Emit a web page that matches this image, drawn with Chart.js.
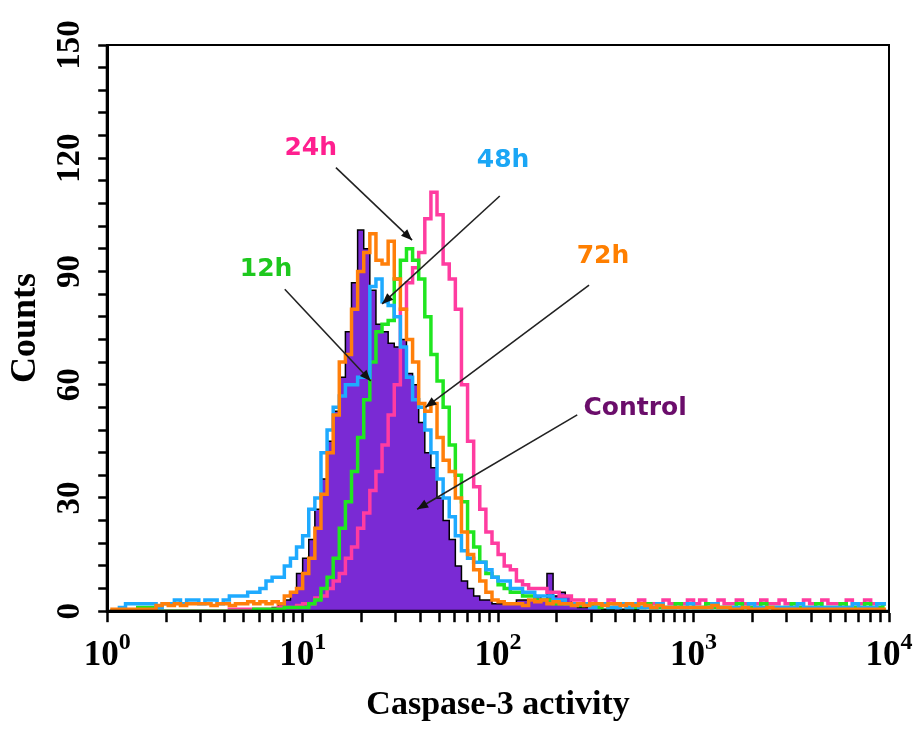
<!DOCTYPE html>
<html lang="en">
<head>
<meta charset="UTF-8">
<title>Caspase-3 activity histogram</title>
<script src="https://cdn.jsdelivr.net/npm/chart.js"></script>
<style>
  html, body { margin: 0; padding: 0; background: #fff; }
</style>
</head>
<body>
<canvas id="hist" width="914" height="731"></canvas>
<script>
  // 32 channels per decade, 4 decades (10^0 .. 10^4)
  const binsPerDecade = 32;
  const decades = 4;

  // counts per channel (rows of 16 = half a decade)
  const control = [
    0,0,0,0,0,0,0,0,0,0,0,0,0,0,0,0,
    0,0,0,0,0,0,0,0,0,0.5,0.5,1,2,3,5,10,
    14,19,27,35,45,53,62,74,87,101,96,85,76,74,71,70,
    72,63,60,50,42,38,30,24,19,12,8,6,4,3,3,2,
    2,2,2,3,3,3,4,3,10,4,5,4,2,1,1,1,
    1,0.5,0.5,1,0.5,0.5,0.5,0,0,0,0,0,0,0,0,0,
    0,0,0,0,0,0,0,0,0,0,0,0,0,0,0,0,
    0,0,0,0,0,0,0,0,0,0,0,0,0,0,0,0
  ];
  const h12 = [
    0,0,0,0,0,1,1,1,0,0,0,0,0,0,0,0,
    0,0,0,0,0,0,0,0,0.5,0.5,0.5,0.5,0.5,1,1,1,
    1,2,3,6,9,14,22,29,37,46,56,66,74,76,77,88,
    93,96,93,88,78,68,61,54,44,36,29,21,17,13,10,9,
    7,6,5,5,4,4,3,3,3,2,2,2,2,1.5,2,1.5,
    1,2,1,1,2,1,1,1,2,1,1,1,1,2,1,1,
    1,1,2,1,1,1,1,2,1,1,1,2,1,1,1,1,
    2,1,1,1,2,1,1,1,2,1,1,1,2,1,1,2
  ];
  const h24 = [
    0,0,0,0,0,0,0,0,0,0,0,0,0,0,0,0,
    0,0,0,0,0.5,0.5,0.5,0.5,0.5,0.5,0.5,0.5,1,1,1,1.5,
    2,2,3.5,4,6,8,10,14,17,22,26,32,37,44,52,60,
    80,87,91,95,104,111,105,92,88,80,60,45,33,27,21,18,
    15,12,11,8,7,6,6,6,5,5,4,4,3,3,2,3,
    2,2,3,2,2,1,2,3,2,2,2,3,2,2,2,3,
    2,3,2,2,3,2,2,3,2,2,2,3,2,2,3,2,
    2,2,3,2,2,3,2,2,2,3,2,2,3,2,2,2
  ];
  const h48 = [
    0,0,1,2,2,2,2,2,1,2,2,3,2,3,3,2,
    3,3,2,3,4,4,4,5,5,6,8,9,9,12,14,17,
    20,27,30,42,48,54,57,60,60,62,62,86,88,82,81,78,
    70,62,56,54,48,42,35,30,25,20,16,14,13,13,11,9,
    8,8,6,6,5,5,4,4,4,3,3,2,2,2,2,1,
    2,2,1,1,2,1,2,1,1,1,2,1,1,1,1,2,
    1,1,1,2,1,1,1,1,1,2,1,1,1,1,1,1,
    1,2,1,1,1,1,1,1,1,1,2,1,1,1,2,2
  ];
  const h72 = [
    0.5,0.5,0.5,0.5,0.5,0.5,0.5,0.5,1.5,2,1.5,2,1.5,2,2,2,
    2,1.5,2,2,1.5,2,2,2.5,2,2.5,2,2.5,2,4,5,6,
    10,14,22,31,42,52,66,68,80,90,95,100,93,92,98,88,
    80,72,66,55,53,55,46,40,37,30,21,15,11,8,5,3,
    2.5,2,2,2,1.5,3,2.5,3,2,2.5,2,2,1.5,2,1.5,2,
    2,1.5,2,2,1.5,2,1.5,2,1.5,1,1.5,1,1,1,1,1,
    1,1,1,1.5,1,1,0.5,0.5,1,0.5,0.5,0.5,1,0.5,0.5,0.5,
    0.5,0.5,0.5,0.5,0.5,0.5,0.5,0.5,0.5,0.5,0.5,0.5,0.5,0.5,0.5,0.5
  ];

  const yLabels = [0, 30, 60, 90, 120, 150];
  const xExponents = [0, 1, 2, 3, 4];

  // annotation labels and arrows, in data coordinates (channel value, count)
  const noteText   = ['24h', '48h', '12h', '72h', 'Control'];
  const noteColor  = ['#ff1f8f', '#1aa6f5', '#1ec81e', '#ff7f00', '#6b0d6b'];
  const noteAt     = [[11.0, 122.7], [106, 119.5], [6.5, 90.4], [344, 94.1], [502, 53.8]];
  const arrowFrom  = [[14.8, 117.5], [102, 110], [8.1, 85.3], [292, 86.4], [254, 52]];
  const arrowTo    = [[36.3, 98.3], [25.5, 81.4], [22.3, 61], [42.5, 54], [38.5, 27]];

  const binCenters = [];
  for (let i = 0; i < binsPerDecade * decades; i++) {
    binCenters.push(Math.pow(10, (i + 0.5) / binsPerDecade));
  }
  const toPoints = vals => binCenters.map((x, i) => ({ x: x, y: vals[i] }));

  // minor + major log ticks 1..9 x 10^n
  const logTicks = [];
  for (let e = 0; e < decades; e++) {
    for (let m = 1; m < 10; m++) logTicks.push(m * Math.pow(10, e));
  }
  logTicks.push(Math.pow(10, decades));

  function lineSet(label, vals, color) {
    return {
      label: label,
      data: toPoints(vals),
      borderColor: color,
      borderWidth: 3.5,
      fill: false,
      stepped: 'middle',
      pointRadius: 0
    };
  }

  // first dataset is drawn on top
  const datasets = [
    lineSet('72h', h72, '#ff7f0a'),
    lineSet('48h', h48, '#1eaaff'),
    lineSet('12h', h12, '#20e620'),
    lineSet('24h', h24, '#ff3ca0'),
    {
      label: 'Control',
      data: toPoints(control),
      borderColor: '#000',
      borderWidth: 1.5,
      backgroundColor: '#7a2ad4',
      fill: 'origin',
      stepped: 'middle',
      pointRadius: 0
    }
  ];

  function drawArrow(ctx, x0, y0, x1, y1) {
    ctx.beginPath();
    ctx.moveTo(x0, y0);
    ctx.lineTo(x1, y1);
    ctx.stroke();
    const ang = Math.atan2(y1 - y0, x1 - x0);
    const L = 11, W = 4.5;
    ctx.beginPath();
    ctx.moveTo(x1, y1);
    ctx.lineTo(x1 - L * Math.cos(ang) + W * Math.sin(ang), y1 - L * Math.sin(ang) - W * Math.cos(ang));
    ctx.lineTo(x1 - L * Math.cos(ang) - W * Math.sin(ang), y1 - L * Math.sin(ang) + W * Math.cos(ang));
    ctx.closePath();
    ctx.fill();
  }

  const decor = {
    id: 'decor',
    afterDraw(chart) {
      const { ctx, chartArea: a, scales: { x, y } } = chart;
      ctx.save();

      // box frame, heavier on the axes
      ctx.strokeStyle = '#000';
      ctx.lineWidth = 2;
      ctx.strokeRect(a.left, a.top, a.right - a.left, a.bottom - a.top);
      ctx.lineWidth = 3;
      ctx.beginPath();
      ctx.moveTo(a.left, a.top);
      ctx.lineTo(a.left, a.bottom);
      ctx.lineTo(a.right, a.bottom);
      ctx.stroke();

      // y tick labels, rotated
      ctx.fillStyle = '#000';
      ctx.font = 'bold 33px "Liberation Serif"';
      ctx.textAlign = 'center';
      ctx.textBaseline = 'middle';
      yLabels.forEach(v => {
        ctx.save();
        ctx.translate(a.left - 37, y.getPixelForValue(v));
        ctx.rotate(-Math.PI / 2);
        ctx.fillText(String(v), 0, 0);
        ctx.restore();
      });

      // x tick labels: 10 with raised exponent
      ctx.textAlign = 'left';
      ctx.textBaseline = 'alphabetic';
      xExponents.forEach(e => {
        const px = x.getPixelForValue(Math.pow(10, e));
        ctx.font = 'bold 35px "Liberation Serif"';
        const w1 = ctx.measureText('10').width;
        ctx.font = 'bold 24px "Liberation Serif"';
        const w2 = ctx.measureText(String(e)).width;
        const x0 = px - (w1 + w2) / 2;
        ctx.font = 'bold 35px "Liberation Serif"';
        ctx.fillText('10', x0, a.bottom + 54);
        ctx.font = 'bold 24px "Liberation Serif"';
        ctx.fillText(String(e), x0 + w1, a.bottom + 38);
      });

      // arrows
      ctx.strokeStyle = '#222';
      ctx.fillStyle = '#111';
      ctx.lineWidth = 1.6;
      arrowFrom.forEach((p, i) => {
        const q = arrowTo[i];
        drawArrow(ctx, x.getPixelForValue(p[0]), y.getPixelForValue(p[1]),
                  x.getPixelForValue(q[0]), y.getPixelForValue(q[1]));
      });

      // labels
      ctx.font = 'bold 25px "DejaVu Sans"';
      ctx.textAlign = 'center';
      ctx.textBaseline = 'middle';
      noteText.forEach((t, i) => {
        ctx.fillStyle = noteColor[i];
        ctx.fillText(t, x.getPixelForValue(noteAt[i][0]), y.getPixelForValue(noteAt[i][1]));
      });

      ctx.restore();
    }
  };

  new Chart(document.getElementById('hist'), {
    type: 'line',
    data: { datasets: datasets },
    options: {
      responsive: false,
      animation: false,
      events: [],
      layout: { padding: { left: 0, right: 25, top: 45, bottom: 5 } },
      scales: {
        x: {
          type: 'logarithmic',
          min: 1,
          max: 10000,
          afterBuildTicks: s => { s.ticks = logTicks.map(v => ({ value: v })); },
          ticks: { display: false, autoSkip: false },
          grid: { drawOnChartArea: false, drawTicks: true, tickLength: 11, tickWidth: 2.5, tickColor: '#000' },
          border: { display: true, color: '#000', width: 3 },
          title: {
            display: true,
            text: 'Caspase-3 activity',
            color: '#000',
            font: { family: 'Liberation Serif', weight: 'bold', size: 34 },
            padding: { top: 63, bottom: 0 }
          }
        },
        y: {
          min: 0,
          max: 150,
          ticks: { display: false, stepSize: 6, autoSkip: false },
          grid: { drawOnChartArea: false, drawTicks: true, tickLength: 9, tickWidth: 2.5, tickColor: '#000' },
          border: { display: true, color: '#000', width: 3 },
          title: {
            display: true,
            text: 'Counts',
            color: '#000',
            font: { family: 'Liberation Serif', weight: 'bold', size: 36 },
            padding: { top: 4, bottom: 51 }
          }
        }
      },
      plugins: {
        legend: { display: false },
        tooltip: { enabled: false }
      }
    },
    plugins: [decor]
  });
</script>
</body>
</html>
